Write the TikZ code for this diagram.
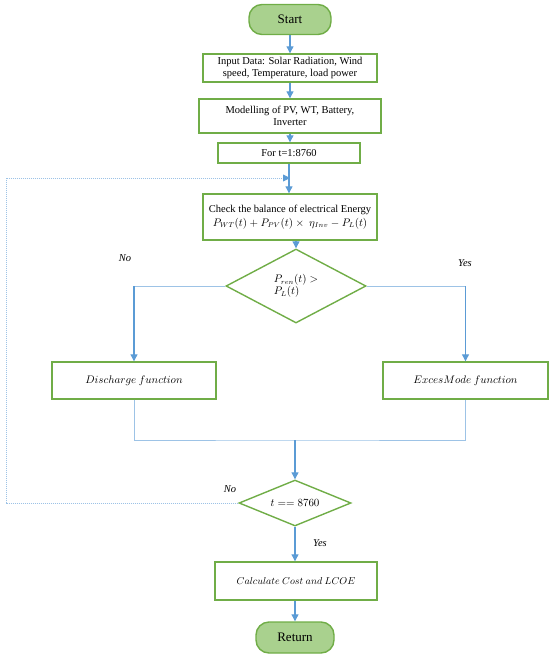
\documentclass[tikz,border=0pt]{standalone}
\usepackage{amsmath}
\usepackage{fontspec}
\setmainfont{Liberation Serif}
\usetikzlibrary{shapes.geometric}
\usetikzlibrary{arrows.meta}
\usetikzlibrary{positioning}

\definecolor{boxgreen}{HTML}{70AD47}
\definecolor{termfill}{HTML}{A9D18E}
\definecolor{flowblue}{HTML}{5B9BD5}
\definecolor{paleblue}{HTML}{9DC3E6}

\tikzset{
	procbox/.style={draw=boxgreen, line width=1.4pt, inner sep=0pt, align=center,
		font=\fontsize{10.5}{12.5}\selectfont},
	termbox/.style={draw=boxgreen, fill=termfill, line width=1.4pt, rounded corners=13pt,
		inner sep=0pt, font=\fontsize{13}{15}\selectfont},
	testbox/.style={draw=boxgreen, diamond, aspect=2, line width=1.4pt, inner sep=0pt,
		font=\fontsize{10.5}{12.5}\selectfont},
	flow/.style={draw=flowblue, line width=1.1pt, -{Triangle[width=7pt,length=7pt]}},
	joinline/.style={draw=paleblue, line width=0.8pt},
	backline/.style={draw=paleblue, line width=0.9pt, dash pattern=on 1pt off 1pt,
		-{Triangle[width=7pt,length=7pt,color=flowblue]}},
	answer/.style={font=\fontsize{10.5}{12.5}\selectfont\itshape}
}

\begin{document}
\begin{tikzpicture}[x=1pt,y=-1pt]
	\useasboundingbox (0,0) rectangle (550,658);
	\node [termbox, minimum width=82pt, minimum height=30pt] at (290,19.5) (start) {Start};
	\node [procbox, minimum width=174pt, minimum height=28pt] at (290,68) (input)
		{Input Data: Solar Radiation, Wind\\speed, Temperature, load power};
	\node [procbox, minimum width=182pt, minimum height=34pt] at (290,116) (model)
		{Modelling of PV, WT, Battery,\\Inverter};
	\node [procbox, minimum width=142pt, minimum height=20pt] at (289,153) (loop) {For t=1:8760};
	\node [procbox, minimum width=174pt, minimum height=46pt] at (290,217) (check)
		{Check the balance of electrical Energy\\[1pt]
		$P_{WT}(t) + P_{PV}(t) \times\ \eta_{Inv} - P_L(t)$};
	\node [testbox, minimum width=140pt, minimum height=74pt, align=left] at (296,286) (bal)
		{$P_{ren}(t) >$\\$P_L(t)$};
	\node [procbox, minimum width=164pt, minimum height=37pt] at (134,380.5) (dis)
		{$Discharge\ function$};
	\node [procbox, minimum width=165pt, minimum height=37pt] at (465.5,380.5) (exc)
		{$ExcesMode\ function$};
	\node [testbox, minimum width=112pt, minimum height=46pt] at (295,503) (last)
		{$t == 8760$};
	\node [procbox, minimum width=162pt, minimum height=38pt] at (296,581) (calc)
		{\fontsize{10}{12}\selectfont$Calculate\ Cost\ and\ LCOE$};
	\node [termbox, minimum width=78pt, minimum height=31pt] at (295,637.5) (ret) {Return};
	\node [answer] at (125,258) (no1) {No};
	\node [answer] at (465,263) (yes1) {Yes};
	\node [answer] at (230,489) (no2) {No};
	\node [answer] at (320,543) (yes2) {Yes};
	\coordinate (back) at (290,178);
	\coordinate (corner) at (6,178);
	\coordinate (merge) at (295,440);
	\draw [flow] (start.south) -- (input.north);
	\draw [flow] (input.south) -- (model.north);
	\draw [flow] (model.south) -- (model.south |- loop.north);
	\draw [flow] (loop.south) -- (loop.south |- check.north);
	\draw [flow] (bal.north |- check.south) -- (bal.north);
	\draw [joinline] (bal.west) -- (bal.west -| dis.north);
	\draw [flow] (bal.west -| dis.north) -- (dis.north);
	\draw [joinline] (bal.east) -- (bal.east -| exc.north);
	\draw [flow] (bal.east -| exc.north) -- (exc.north);
	\draw [joinline] (dis.south) |- (merge) -| (exc.south);
	\draw [flow] (merge) -- (last.north);
	\draw [backline] (last.west) -| (corner) -- (back);
	\draw [flow] (last.south) -- (last.south |- calc.north);
	\draw [flow] (calc.south -| ret.north) -- (ret.north);
\end{tikzpicture}
\end{document}
